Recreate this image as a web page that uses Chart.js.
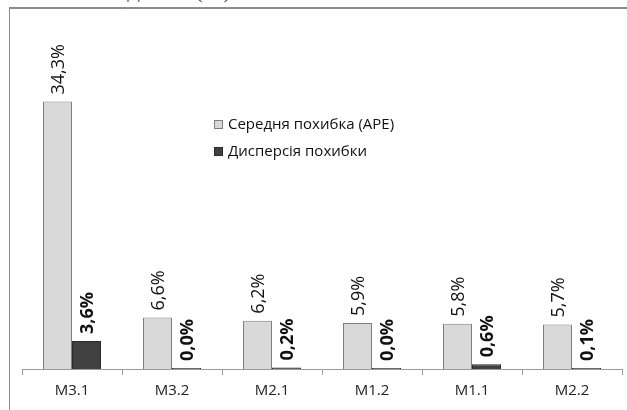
<!DOCTYPE html>
<html>
<head>
<meta charset="utf-8">
<script src="https://cdn.jsdelivr.net/npm/chart.js@4/dist/chart.umd.min.js"></script>
<style>
  html, body { margin: 0; padding: 0; background: #fff; overflow: hidden; }
  #wrap { position: relative; width: 627px; height: 410px; overflow: hidden; }
  #caption { position: absolute; left: 2px; top: -25px; font-family: "Liberation Serif", serif; font-size: 25px; color: #444; white-space: nowrap; }
  #frame { position: absolute; left: 9px; top: 7px; width: 700px; height: 500px; border-top: 2px solid #8c8c8c; border-left: 1px solid #8c8c8c; }
  canvas { position: absolute; left: 0; top: 0; }
</style>
</head>
<body>
<div id="wrap">
  <div id="caption">Похибка моделей (%):</div>
  <div id="frame"></div>
  <canvas id="c" width="627" height="410"></canvas>
</div>
<script>
// Models compared
const categories = ["M3.1", "M3.2", "M2.1", "M1.2", "M1.1", "M2.2"];
// Mean absolute percentage error, %
const meanError = [34.3, 6.6, 6.2, 5.9, 5.8, 5.7];
// Error variance, %
const errorVariance = [3.6, 0.0, 0.2, 0.0, 0.6, 0.1];
const seriesNames = ["Середня похибка (APE)", "Дисперсія похибки"];

const fmt = v => v.toFixed(1).replace('.', ',') + '%';

// Vertical value labels above each bar
const barLabels = {
  id: 'barLabels',
  afterDatasetsDraw(chart) {
    const ctx = chart.ctx;
    chart.data.datasets.forEach((ds, di) => {
      const meta = chart.getDatasetMeta(di);
      meta.data.forEach((bar, i) => {
        ctx.save();
        ctx.translate(bar.x + 1, bar.y - 7);
        ctx.rotate(-Math.PI / 2);
        ctx.font = (di === 1 ? 'bold ' : '') + '18px "Open Sans"';
        ctx.fillStyle = '#111';
        ctx.textAlign = 'left';
        ctx.textBaseline = 'middle';
        ctx.fillText(fmt(ds.data[i]), 0, 0);
        ctx.restore();
      });
    });
  }
};

// Legend placed inside the plot area
const innerLegend = {
  id: 'innerLegend',
  afterDraw(chart, args, opts) {
    const ctx = chart.ctx;
    const x0 = chart.chartArea.left + opts.dx;
    let y = opts.y;
    chart.data.datasets.forEach(ds => {
      ctx.save();
      ctx.fillStyle = ds.backgroundColor;
      ctx.strokeStyle = ds.borderColor;
      ctx.lineWidth = 1;
      ctx.fillRect(x0, y - 5, 9, 9);
      ctx.strokeRect(x0 + 0.5, y - 4.5, 8, 8);
      ctx.font = '15px "Open Sans"';
      ctx.fillStyle = '#111';
      ctx.textBaseline = 'middle';
      ctx.fillText(ds.label, x0 + 14, y);
      ctx.restore();
      y += opts.step;
    });
  }
};

new Chart(document.getElementById('c'), {
  type: 'bar',
  data: {
    labels: categories,
    datasets: [
      { label: seriesNames[0], data: meanError, backgroundColor: '#d9d9d9', borderColor: '#7f7f7f', borderWidth: 1 },
      { label: seriesNames[1], data: errorVariance, backgroundColor: '#404040', borderColor: '#2a2a2a', borderWidth: 1, minBarLength: 1 }
    ]
  },
  options: {
    responsive: false,
    animation: false,
    events: [],
    layout: { padding: { left: 22, right: 5, top: 57, bottom: 0 } },
    datasets: { bar: { categoryPercentage: 0.58, barPercentage: 1.0 } },
    scales: {
      x: {
        grid: { display: true, drawOnChartArea: false, drawTicks: true, tickLength: 6, color: '#9a9a9a', offset: true },
        border: { display: true, color: '#9a9a9a' },
        ticks: { font: { family: 'Open Sans', size: 15 }, color: '#222', padding: 7 },
        afterFit(scale) { scale.height = 41; }
      },
      y: { display: false, min: 0, max: 40 }
    },
    plugins: {
      legend: { display: false },
      tooltip: { enabled: false },
      innerLegend: { dx: 192, y: 125, step: 27 }
    }
  },
  plugins: [barLabels, innerLegend]
});
</script>
</body>
</html>
